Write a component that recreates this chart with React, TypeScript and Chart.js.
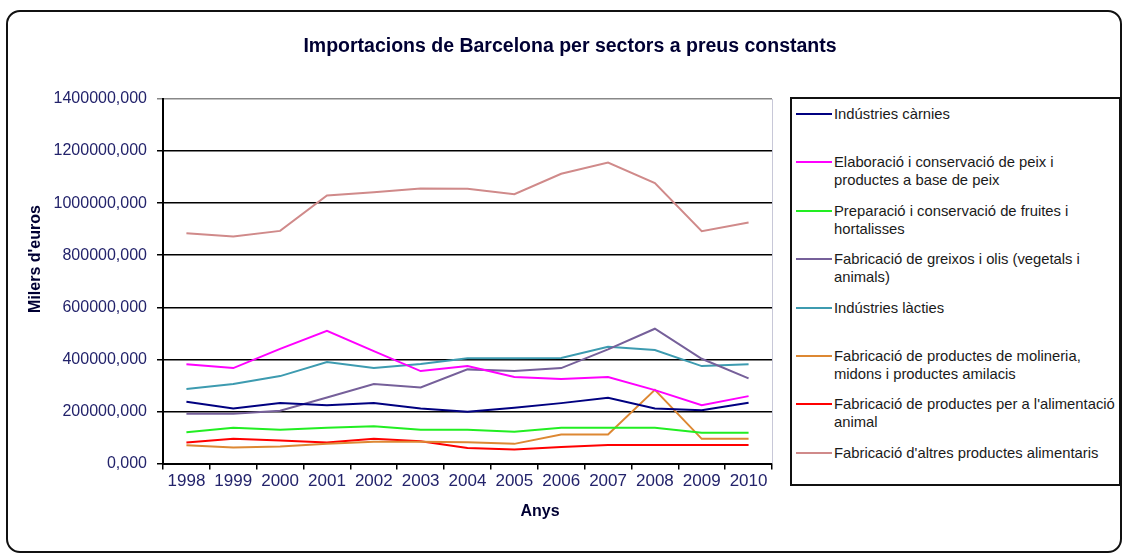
import React, { useEffect, useRef } from "react";
import { Chart, registerables } from "chart.js";

Chart.register(...registerables);

const years = ["1998", "1999", "2000", "2001", "2002", "2003", "2004", "2005", "2006", "2007", "2008", "2009", "2010"];

const seriesNames = [
  "Indústries càrnies",
  "Elaboració i conservació de peix i\nproductes a base de peix",
  "Preparació i conservació de fruites i\nhortalisses",
  "Fabricació de greixos i olis (vegetals i\nanimals)",
  "Indústries làcties",
  "Fabricació de productes de molineria,\nmidons i productes amilacis",
  "Fabricació de productes per a l'alimentació\nanimal",
  "Fabricació d'altres productes alimentaris",
];

const seriesColors = ["#000080", "#ff00ff", "#22ee22", "#76609a", "#3d9bb0", "#dd8833", "#ff0000", "#d08a8a"];

const carnies = [236900, 211500, 231900, 224200, 231900, 211500, 198500, 213800, 231900, 252300, 211500, 205000, 233100];
const peix = [380800, 366500, 440000, 510000, 431900, 355000, 374200, 331900, 324200, 331900, 281900, 224200, 258800];
const fruites = [120400, 136900, 129200, 136900, 143500, 129200, 129200, 121500, 136900, 136900, 136900, 117700, 117700];
const greixos = [190800, 190800, 202300, 253800, 305000, 292300, 361500, 355000, 366500, 438400, 517700, 402300, 326900];
const lactics = [285800, 305000, 335700, 389600, 366500, 381900, 403800, 403800, 405000, 448400, 435800, 374200, 380800];
const molineria = [70400, 61500, 65400, 75400, 83100, 83100, 81900, 75400, 111500, 111500, 283100, 94600, 94600];
const animal = [80800, 94600, 88500, 80800, 94600, 85800, 60000, 53800, 63800, 71500, 71500, 71500, 71500];
const altres = [884600, 871500, 893400, 1029200, 1042300, 1056200, 1055000, 1034600, 1112700, 1156000, 1076900, 892300, 925400];

const seriesValues = [carnies, peix, fruites, greixos, lactics, molineria, animal, altres];

const chartTitle = "Importacions de Barcelona per sectors a preus constants";
const xTitle = "Anys";
const yTitle = "Milers d'euros";

const FONT = "Arial, 'Liberation Sans', sans-serif";
const LABEL_COLOR = "#23236b";

export default function App() {
  const canvasRef = useRef<HTMLCanvasElement | null>(null);

  useEffect(() => {
    document.body.style.margin = "0";
    const canvas = canvasRef.current;
    if (!canvas) return;

    const textPlugin = {
      id: "customTexts",
      afterDraw(chart: any) {
        const { ctx, chartArea } = chart;
        ctx.save();
        // plot area right border
        ctx.strokeStyle = "#c8c8d8";
        ctx.lineWidth = 1;
        ctx.beginPath();
        ctx.moveTo(chartArea.right + 0.5, chartArea.top);
        ctx.lineTo(chartArea.right + 0.5, chartArea.bottom);
        ctx.stroke();

        ctx.fillStyle = "#000033";
        ctx.textAlign = "center";
        ctx.textBaseline = "middle";
        ctx.font = `bold 19.5px ${FONT}`;
        ctx.fillText(chartTitle, 570, 47);

        ctx.font = `bold 16px ${FONT}`;
        ctx.fillText(xTitle, 540, 512);

        ctx.translate(36, 259);
        ctx.rotate(-Math.PI / 2);
        ctx.font = `bold 16px ${FONT}`;
        ctx.fillText(yTitle, 0, 0);
        ctx.restore();
      },
    };

    const chart = new Chart(canvas, {
      type: "line",
      data: {
        labels: years,
        datasets: seriesValues.map((vals, i) => ({
          label: seriesNames[i].replace("\n", " "),
          data: vals,
          borderColor: seriesColors[i],
          backgroundColor: seriesColors[i],
          borderWidth: 2,
          pointRadius: 0,
          tension: 0,
          fill: false,
        })),
      },
      options: {
        animation: false,
        responsive: false,
        maintainAspectRatio: false,
        layout: { padding: { left: 0, top: 99, right: 356, bottom: 0 } },
        plugins: {
          legend: { display: false },
          title: { display: false },
          tooltip: { enabled: false },
        },
        scales: {
          x: {
            offset: true,
            grid: {
              display: true,
              drawOnChartArea: false,
              offset: true,
              tickLength: 6,
              color: "#000",
              lineWidth: 1.5,
            },
            border: { color: "#000", width: 2 },
            ticks: {
              font: { size: 17, family: FONT },
              color: LABEL_COLOR,
              padding: 2,
              maxRotation: 0,
              autoSkip: false,
            },
            afterFit: (s: any) => {
              s.height = 93.5;
            },
          },
          y: {
            min: 0,
            max: 1400000,
            ticks: {
              stepSize: 200000,
              callback: (v: any) => `${v},000`,
              font: { size: 16, family: FONT },
              color: LABEL_COLOR,
              padding: 10,
            },
            grid: {
              color: (c: any) => (c.tick && c.tick.value === 1400000 ? "#888888" : "#000000"),
              lineWidth: 1.5,
              tickLength: 6,
            },
            border: { color: "#000", width: 2 },
            afterFit: (s: any) => {
              s.width = 163;
            },
          },
        },
      },
      plugins: [textPlugin],
    });

    return () => chart.destroy();
  }, []);

  return (
    <div style={{ position: "relative", width: 1128, height: 557, background: "#fff", overflow: "hidden" }}>
      <canvas ref={canvasRef} width={1128} height={557} style={{ position: "absolute", left: 0, top: 0 }} />
      <div
        style={{
          position: "absolute",
          left: 6,
          top: 10,
          width: 1116,
          height: 543,
          boxSizing: "border-box",
          border: "2px solid #111",
          borderRadius: 14,
          pointerEvents: "none",
        }}
      />
      <div
        style={{
          position: "absolute",
          left: 790,
          top: 97,
          width: 331,
          height: 389,
          boxSizing: "border-box",
          border: "2px solid #111",
          background: "#fff",
          fontFamily: FONT,
          fontSize: 14.8,
          color: "#1a1a1a",
        }}
      >
        {seriesNames.map((name, i) => (
          <div
            key={i}
            style={{
              position: "absolute",
              left: 0,
              top: 6 + 48.4 * i,
              width: 327,
              height: 48,
            }}
          >
            <div
              style={{
                position: "absolute",
                left: 4,
                top: 8,
                width: 36,
                height: 2,
                background: seriesColors[i],
              }}
            />
            <div
              style={{
                position: "absolute",
                left: 42,
                top: 0,
                lineHeight: "18px",
                whiteSpace: "pre",
              }}
            >
              {name}
            </div>
          </div>
        ))}
      </div>
    </div>
  );
}
